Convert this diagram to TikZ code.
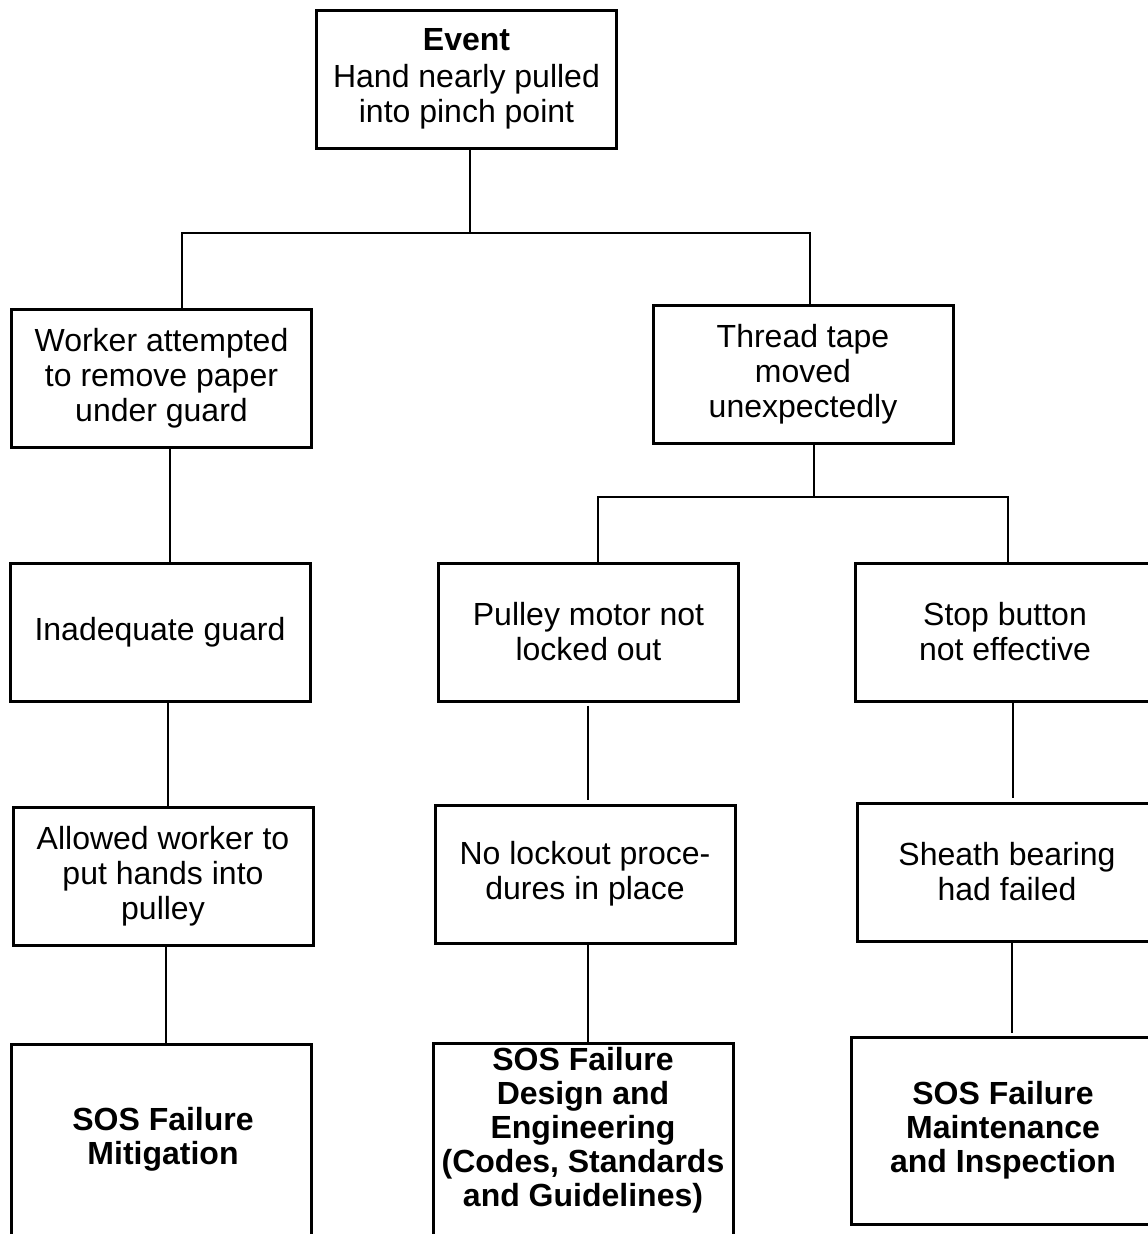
\documentclass[tikz,border=0pt]{standalone}
\usepackage{fontspec}
\setmainfont{Liberation Sans}
\begin{document}
\begin{tikzpicture}[x=1pt,y=-1pt,
  box/.style={draw, line width=3pt, minimum width=300pt, minimum height=138pt,
    align=center, inner sep=0pt, font=\fontsize{32}{35}\selectfont},
  openbox/.style={draw, line width=3pt, minimum width=300pt, minimum height=400pt,
    anchor=north, inner sep=0pt},
  boldtxt/.style={align=center, inner sep=0pt, font=\fontsize{32}{34}\selectfont\bfseries},
  conn/.style={line width=2.4pt}]
\useasboundingbox (0,0) rectangle (1148,1234);
\clip (0,0) rectangle (1148,1234);
\fill[white] (0,0) rectangle (1148,1234);

% level 0
\node[box] (event) at (466.5,79) {\textbf{Event}\\[2pt]Hand nearly pulled\\into pinch point};
% level 1
\node[box] (worker) at (161.5,378) {Worker attempted\\to remove paper\\under guard};
\node[box] (thread) at (803,374) {Thread tape\\moved\\unexpectedly};
% level 2
\node[box] (inad) at (160,632) {Inadequate guard};
\node[box] (pulley) at (588.5,632) {Pulley motor not\\locked out};
\node[box] (stop) at (1005,632) {Stop button\\not effective};
% level 3
\node[box] (allowed) at (163,876) {Allowed worker to\\put hands into\\pulley};
\node[box] (nolock) at (585,874) {No lockout proce-\\dures in place};
\node[box] (sheath) at (1007,872) {Sheath bearing\\had failed};
% level 4
\node[openbox] (mitbox) at (161.5,1043) {};
\node[boldtxt] (mit) at (163,1139) {SOS Failure\\Mitigation};
\node[openbox] (desbox) at (583,1042) {};
\node[boldtxt] (des) at (583,1130) {SOS Failure\\Design and\\Engineering\\(Codes, Standards\\and Guidelines)};
\node[box, minimum height=187pt] (maint) at (1001,1130.5) {};
\node[boldtxt] (mnt) at (1003,1130) {SOS Failure\\Maintenance\\and Inspection};

% connectors
\coordinate (j0) at (470,233);
\draw[conn] ([xshift=3.5pt]event.south) -- (j0);
\draw[conn] ([xshift=20.5pt]worker.north) |- (j0) -| ([xshift=7pt]thread.north);
\coordinate (j1) at (814,497);
\draw[conn] ([xshift=11pt]thread.south) -- (j1);
\draw[conn] ([xshift=9.5pt]pulley.north) |- (j1) -| ([xshift=3pt]stop.north);
\draw[conn] ([xshift=8.5pt]worker.south) -- ([xshift=8.5pt]worker.south |- inad.north);
\draw[conn] ([xshift=8pt]inad.south) -- ([xshift=8pt]inad.south |- allowed.north);
\draw[conn, shorten >=4pt, shorten <=3pt] ([xshift=-0.5pt]pulley.south) -- ([xshift=-0.5pt]pulley.south |- nolock.north);
\draw[conn, shorten >=4pt] ([xshift=8pt]stop.south) -- ([xshift=8pt]stop.south |- sheath.north);
\draw[conn] ([xshift=3pt]allowed.south) -- ([xshift=3pt]allowed.south |- mitbox.north);
\draw[conn] ([xshift=3pt]nolock.south) -- ([xshift=3pt]nolock.south |- desbox.north);
\draw[conn, shorten >=3pt] ([xshift=5pt]sheath.south) -- ([xshift=5pt]sheath.south |- maint.north);
\end{tikzpicture}
\end{document}
